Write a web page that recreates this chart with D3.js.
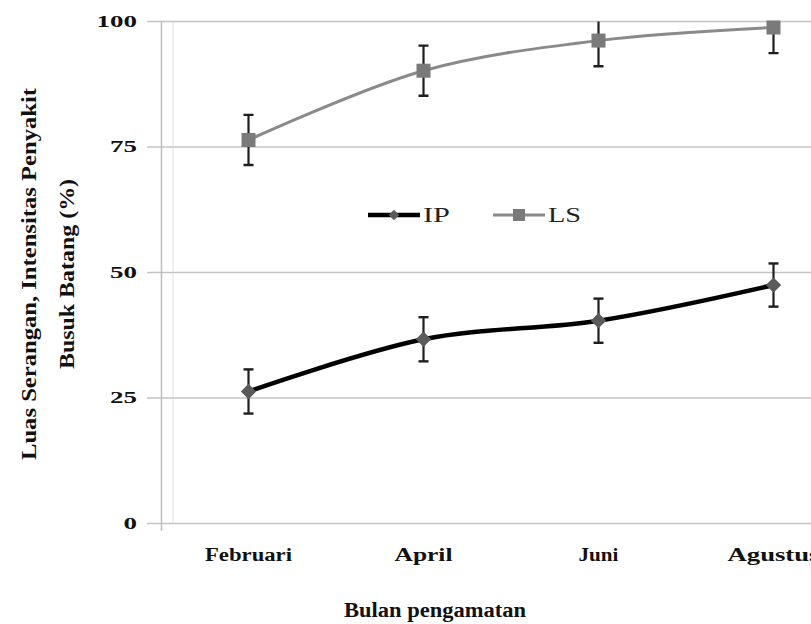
<!DOCTYPE html>
<html><head><meta charset="utf-8">
<script src="https://cdn.jsdelivr.net/npm/d3@7"></script>
<style>body{margin:0;background:#fff}svg{display:block}</style>
</head><body>
<svg id="c" width="811" height="624"></svg>
<script>
const categories = ["Februari","April","Juni","Agustus"];
const ipValues = [26.2, 36.6, 40.3, 47.4];
const ipErrors = [4.4, 4.4, 4.4, 4.3];
const lsValues = [76.3, 90.1, 96.1, 98.7];
const lsErrors = [5.0, 5.0, 5.1, 5.1];
const yTicks = [0, 25, 50, 75, 100];
const seriesNames = ["IP", "LS"];

const svg = d3.select("#c");
const font = "'Liberation Serif','Times New Roman',serif";

const x = d3.scaleBand().domain(categories).range([161, 861]).padding(0);
const cx = c => x(c) + x.bandwidth()/2;
const y = d3.scaleLinear().domain([0,100]).range([523, 21]);

// plot inner border (faint)
svg.append("line").attr("x1",173).attr("x2",173).attr("y1",y(100)).attr("y2",y(0))
  .attr("stroke","#e2e2e2").attr("stroke-width",1);

// gridlines
const yAxis = d3.axisLeft(y).tickValues(yTicks).tickSize(-(811-161)).tickPadding(24).tickFormat(d=>d);
const gy = svg.append("g").attr("transform","translate(161,0)").call(yAxis);
gy.select(".domain").remove();
gy.selectAll(".tick line").attr("stroke","#c4c4c4").attr("stroke-width",1.6).attr("x1",-14);
gy.selectAll(".tick text").attr("font-family",font).attr("font-weight","bold").attr("font-size",17)
  .attr("fill","#111")
  .attr("textLength", d => String(d).length*13.5).attr("lengthAdjust","spacingAndGlyphs");

// y axis line
svg.append("line").attr("x1",161.5).attr("x2",161.5).attr("y1",y(100)).attr("y2",y(0)+8)
  .attr("stroke","#bdbdbd").attr("stroke-width",1.5);

// x labels
const xAxis = d3.axisBottom(x).tickSize(0).tickPadding(0);
const gx = svg.append("g").call(xAxis);
gx.select(".domain").remove();
const xLabelLen = {"Februari":87,"April":58,"Juni":40,"Agustus":92};
gx.selectAll(".tick text").attr("y",561).attr("dy",0).attr("font-family",font).attr("font-weight","bold")
  .attr("font-size",18).attr("fill","#111")
  .attr("textLength", d => xLabelLen[d]).attr("lengthAdjust","spacingAndGlyphs");

// axis titles
svg.append("text").attr("x",435).attr("y",617).attr("text-anchor","middle")
  .attr("font-family",font).attr("font-weight","bold").attr("font-size",20).attr("fill","#111")
  .attr("textLength",182).attr("lengthAdjust","spacingAndGlyphs").text("Bulan pengamatan");
const t1 = svg.append("text").attr("transform","translate(36,274) rotate(-90)").attr("text-anchor","middle")
  .attr("font-family",font).attr("font-weight","bold").attr("font-size",20).attr("fill","#111");
t1.append("tspan").attr("x",0).attr("y",0).attr("textLength",372).attr("lengthAdjust","spacingAndGlyphs")
  .text("Luas Serangan, Intensitas  Penyakit");
t1.append("tspan").attr("x",0).attr("y",38).attr("textLength",190).attr("lengthAdjust","spacingAndGlyphs")
  .text("Busuk Batang (%)");

// clip
svg.append("clipPath").attr("id","clip").append("rect").attr("x",150).attr("y",21.5).attr("width",661).attr("height",520);

const line = d3.line().x(d=>cx(d.c)).y(d=>y(d.v)).curve(d3.curveCatmullRom.alpha(0.5));
const ipData = categories.map((c,i)=>({c, v:ipValues[i], e:ipErrors[i]}));
const lsData = categories.map((c,i)=>({c, v:lsValues[i], e:lsErrors[i]}));

function errorBars(data){
  const g = svg.append("g").attr("clip-path","url(#clip)");
  data.forEach(d=>{
    const X = cx(d.c);
    g.append("line").attr("x1",X).attr("x2",X).attr("y1",y(d.v+d.e)).attr("y2",y(d.v-d.e))
      .attr("stroke","#1e1e1e").attr("stroke-width",2.2);
    [d.v+d.e, d.v-d.e].forEach(v=>{
      g.append("line").attr("x1",X-5).attr("x2",X+5).attr("y1",y(v)).attr("y2",y(v))
        .attr("stroke","#1e1e1e").attr("stroke-width",2.4);
    });
  });
}

// LS
svg.append("path").datum(lsData).attr("d",line).attr("fill","none").attr("stroke","#8a8a8a").attr("stroke-width",3);
errorBars(lsData);
svg.append("g").selectAll("rect").data(lsData).join("rect")
  .attr("x",d=>cx(d.c)-7).attr("y",d=>y(d.v)-7).attr("width",14).attr("height",14).attr("fill","#7a7a7a");

// IP
svg.append("path").datum(ipData).attr("d",line).attr("fill","none").attr("stroke","#000").attr("stroke-width",4.5);
errorBars(ipData);
const diamond = d3.symbol().type(d3.symbolDiamond2).size(150);
svg.append("g").selectAll("path").data(ipData).join("path")
  .attr("transform",d=>`translate(${cx(d.c)},${y(d.v)})`).attr("d",diamond).attr("fill","#5a5a5a");

// legend
const lg = svg.append("g");
const legendItems = [
  {name: seriesNames[0], x0: 368, color:"#000", w:4.5, type:"diamond"},
  {name: seriesNames[1], x0: 493, color:"#8a8a8a", w:3, type:"square"}
];
legendItems.forEach(it=>{
  lg.append("line").attr("x1",it.x0).attr("x2",it.x0+52).attr("y1",215).attr("y2",215)
    .attr("stroke",it.color).attr("stroke-width",it.w);
  if(it.type==="diamond"){
    lg.append("path").attr("transform",`translate(${it.x0+26},215)`).attr("d",d3.symbol().type(d3.symbolDiamond2).size(70)).attr("fill","#5a5a5a");
  } else {
    lg.append("rect").attr("x",it.x0+26-6).attr("y",209).attr("width",12).attr("height",12).attr("fill","#7a7a7a");
  }
  lg.append("text").attr("x",it.x0+55).attr("y",222).attr("font-family",font).attr("font-size",20)
    .attr("fill","#222").attr("textLength", it.name==="IP"?27:33).attr("lengthAdjust","spacingAndGlyphs").text(it.name);
});
</script>
</body></html>
